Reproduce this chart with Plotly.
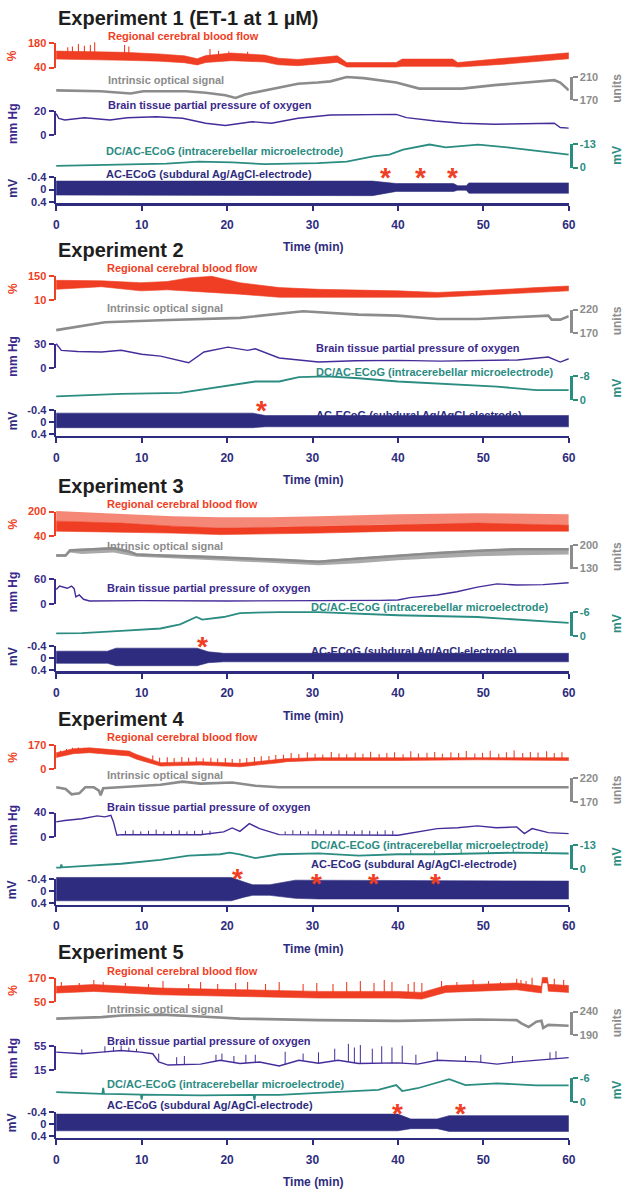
import plotly.graph_objects as go

W, H = 631, 1197
FONT = "Liberation Sans, Arial, Helvetica, sans-serif"

C_CBF = "#EF3E23"
C_IOS = "#8C8C8C"
C_PO2 = "#452C9A"
C_PO2_TXT = "#3B2A8C"
C_DC = "#2B8C82"
C_AC = "#2E2C7E"
C_TITLE = "#1E1E1E"

TITLES = ["Experiment 1 (ET-1 at 1 \u00b5M)", "Experiment 2", "Experiment 3", "Experiment 4", "Experiment 5"]
TIME_TICKS = [0, 10, 20, 30, 40, 50, 60]
LABELS = {"cbf": "Regional cerebral blood flow", "ios": "Intrinsic optical signal",
          "po2": "Brain tissue partial pressure of oxygen",
          "dc": "DC/AC-ECoG (intracerebellar microelectrode)",
          "ac": "AC-ECoG (subdural Ag/AgCl-electrode)"}
# scale-bar values (top, bottom) per experiment
CBF_BAR = [(180, 40), (150, 10), (200, 40), (170, 0), (170, 50)]
IOS_BAR = [(210, 170), (220, 170), (200, 130), (220, 170), (240, 190)]
PO2_BAR = [(20, 0), (30, 0), (60, 0), (40, 0), (55, 15)]
DC_BAR = [(-13, 0), (-8, 0), (-6, 0), (-13, 0), (-6, 0)]
AC_BAR = (-0.4, 0.4)

# ---------------- Experiment 1 ----------------
e1_cbf_t = [0, 2, 5, 8, 12, 15, 16.5, 17.5, 20.5, 24.4, 26, 28.3, 32.9, 34, 39.8, 40.5, 46.4, 47, 52, 56, 60]
e1_cbf_lo = [89, 88, 85, 82, 77, 68, 55, 69, 80, 72, 56, 51, 70, 43, 43, 47, 47, 43, 58, 75, 91]
e1_cbf_hi = [135, 134, 131, 128, 119, 108, 91, 109, 124, 112, 94, 87, 108, 69, 69, 89, 89, 69, 92, 109, 125]
e1_cbf_spk_t = [1.35, 1.9, 2.6, 3.3, 4.0, 4.5, 8.0, 8.5, 18.0, 19.0, 20.2, 22.4]
e1_cbf_spk_base = [111, 111, 110, 109, 109, 109, 105, 104, 85, 95, 101, 97]
e1_cbf_spk_top = [157, 162, 176, 166, 171, 186, 171, 162, 147, 137, 133, 132]
e1_ios_t = [0, 5.2, 8.7, 10.2, 15.2, 17.5, 19.8, 21, 22.1, 24.4, 28.3, 30.6, 32.1, 34, 36, 39.8, 42.5, 47.5, 51.3, 58.3, 59, 60]
e1_ios = [187, 185.5, 181.5, 185.5, 185.5, 183, 178.5, 174, 180, 187, 198.5, 200.5, 202.5, 210, 208, 200.5, 190, 190, 196, 204.5, 200.5, 187]
e1_po2_t = [0, 0.3, 1, 3.3, 6.3, 8.3, 11.7, 14.8, 17.5, 19.8, 22.9, 25.2, 28.3, 30.6, 32.1, 39.8, 41, 44.4, 47.5, 51.3, 58.3, 59, 60]
e1_po2 = [18, 14, 12.7, 14.6, 12.7, 14.6, 15.4, 14.1, 10, 8.1, 11.3, 10, 14.1, 15.4, 16.8, 17.3, 14.6, 11.9, 10, 9.2, 10, 6.5, 6]
e1_dc_t = [0, 5.2, 12.9, 16.7, 20.6, 24.4, 28.3, 30.6, 34, 37.1, 39, 40.6, 43.7, 45.6, 49.4, 53.3, 60]
e1_dc = [-0.95, -1.5, -2.2, -3.3, -2.8, -1.9, -2.4, -2.4, -3.3, -6.1, -7.1, -9.8, -12.6, -11.1, -12.6, -10.8, -7.1]
e1_ac_t = [0, 28, 37, 39.8, 46.5, 47, 48, 48.3, 60]
e1_ac_lo = [-0.28, -0.28, -0.28, -0.2, -0.2, -0.13, -0.13, -0.22, -0.22]
e1_ac_hi = [0.18, 0.2, 0.2, 0.06, 0.06, 0.02, 0.02, 0.12, 0.12]
e1_stars = [38.5, 42.6, 46.4]

# ---------------- Experiment 2 ----------------
e2_cbf_t = [0, 5.3, 9.9, 13, 15.5, 18.2, 21.5, 26.1, 30.7, 40, 44.6, 49.3, 56.2, 60]
e2_cbf_lo = [73, 88, 64, 70, 64, 55, 45, 27, 27, 27, 27, 36, 55, 64]
e2_cbf_hi = [125, 122, 111, 118, 139, 148, 111, 83, 73, 64, 55, 64, 83, 92]
e2_ios_t = [0, 3, 5.7, 12.2, 21.5, 28.9, 35.4, 40, 44.6, 49.3, 57.6, 58, 59, 60]
e2_ios = [176, 184.4, 193, 197.3, 202.2, 216.6, 209.3, 207.1, 200, 200, 207.1, 198.5, 198.5, 205.8]
e2_po2_t = [0, 0.3, 0.6, 2.5, 5.3, 7.6, 10, 12.2, 15.5, 17.3, 20.1, 22.4, 23.3, 26.1, 30.7, 35, 40, 45, 49.3, 54, 57.6, 59, 60]
e2_po2 = [30, 25.9, 21.9, 20.5, 19.8, 21.9, 17, 14.8, 6.5, 19.8, 25.9, 21.9, 23.8, 12.4, 7.4, 9, 9.5, 8.5, 9.5, 10, 13.6, 7.4, 11.5]
e2_dc_t = [0, 7.6, 14.5, 17.8, 21.5, 23.3, 26.1, 28.4, 31.7, 35.4, 40, 44.6, 51.6, 56.2, 60]
e2_dc = [-1.3, -2.1, -2.5, -4.0, -5.5, -6.3, -6.3, -7.8, -8, -7.4, -6.3, -5.7, -4.6, -3.4, -3.4]
e2_ac_t = [0, 23, 24.5, 60]
e2_ac_lo = [-0.3, -0.3, -0.22, -0.22]
e2_ac_hi = [0.18, 0.18, 0.15, 0.15]
e2_stars = [24.0]

# ---------------- Experiment 3 ----------------
e3_cbf_t = [0, 7.6, 13.6, 19.2, 25, 30.7, 40, 49.3, 60]
e3_cbf_lo = [71, 64, 58, 48, 51, 58, 71, 71, 71]
e3_cbf_hi = [137, 124, 104, 91, 97, 104, 117, 124, 110]
e3_cbf_peak = [203, 183, 170, 163, 163, 170, 183, 189, 183]
e3_ios_t = [0, 1.1, 1.6, 3, 6.7, 8.5, 9.4, 12.2, 16.9, 26.1, 30.7, 35.4, 40, 44.6, 49.3, 53.9, 60]
e3_ios = [169, 169, 184, 186, 191, 181, 172, 169, 165.6, 156, 150.4, 160, 169, 176.8, 183.2, 188, 188]
e3_ios_lo = [165, 165, 178, 174, 178, 170, 165, 162, 158, 146, 140, 146, 155, 161, 167, 170, 172]
e3_ios_hi = [173, 173, 189, 190, 195, 185, 176, 173, 169, 159, 154, 163, 172, 180, 186, 191, 192]
e3_po2_t = [0, 0.4, 1.3, 1.8, 2.1, 2.3, 2.7, 3.2, 3.9, 10, 20, 30, 38, 40, 41.4, 44.6, 46.9, 49.3, 51.6, 53.9, 57, 60]
e3_po2 = [35, 43.5, 38, 43.5, 37, 16.5, 21.4, 10.8, 6.6, 7.5, 6.6, 6.6, 8, 9, 14.8, 21.4, 29.5, 41, 49, 46, 47, 51.7]
e3_dc_t = [0, 3, 7.6, 12.2, 14.5, 16.4, 17.1, 19.6, 21.5, 26.1, 30.7, 40, 49.3, 60]
e3_dc = [-0.6, -0.7, -1.25, -1.85, -2.9, -4.75, -4.1, -4.75, -5.75, -6, -6, -5.2, -4.75, -3.25]
e3_ac_t = [0, 6, 7, 16.5, 17.8, 19.6, 60]
e3_ac_lo = [-0.22, -0.22, -0.32, -0.32, -0.2, -0.15, -0.15]
e3_ac_hi = [0.18, 0.18, 0.26, 0.26, 0.16, 0.13, 0.13]
e3_stars = [17.1]

# ---------------- Experiment 4 ----------------
e4_cbf_t = [0, 2, 3.9, 6.7, 8.5, 9.4, 11.3, 12.2, 16.9, 21.5, 26.1, 27, 30.7, 40, 49.3, 60]
e4_cbf_lo = [81, 108, 115, 99, 92, 69, 38, 21, 28, 16, 44, 52, 60, 60, 65, 60]
e4_cbf_hi = [115, 142, 149, 133, 126, 103, 66, 45, 52, 40, 68, 74, 80, 80, 85, 80]
e4_cbf_spk_t = [0.5, 1.2, 1.9, 2.6, 3.3, 5.9, 7.2, 8.6,
                11.3, 12.1, 13.0, 13.8, 14.7, 15.5, 16.4, 17.2, 18.1, 18.9, 19.8, 20.6, 21.5, 22.3, 23.2, 24.0, 24.9, 25.7,
                26.6, 27.5, 28.4, 29.4, 30.3, 31.2, 32.2, 33.1, 34.0, 35.0, 35.9, 36.8, 37.8, 38.7, 39.6, 40.6, 41.5, 42.4,
                43.4, 44.3, 45.2, 46.2, 47.1, 48.0, 49.0, 49.9, 50.8, 51.8, 52.7, 53.6, 54.6, 55.5, 56.4, 57.4, 58.3, 59.2]
e4_cbf_spk_base = [105, 118, 125, 130, 132, 118, 112, 105,
                   52, 36, 36, 37, 38, 39, 40, 38, 36, 34, 32, 30, 28, 34, 40, 46, 52, 56,
                   62, 64, 66, 68, 70, 70, 70, 70, 70, 70, 70, 70, 70, 70, 70, 70, 71, 72,
                   72, 73, 73, 74, 74, 74, 75, 75, 74, 73, 72, 72, 72, 71, 71, 70, 70, 70]
e4_cbf_spk_top = [128, 140, 150, 152, 150, 140, 132, 125,
                  95, 80, 82, 78, 84, 80, 82, 76, 80, 74, 78, 70, 72, 78, 84, 90, 92, 98,
                  100, 112, 105, 118, 108, 102, 120, 110, 104, 115, 108, 122, 106, 112, 118, 104, 125, 110,
                  115, 120, 108, 118, 112, 126, 110, 115, 128, 108, 118, 130, 112, 120, 116, 125, 112, 118]
e4_ios_t = [0, 1.1, 1.8, 2.7, 3.4, 4.4, 5, 5.2, 5.5, 7.6, 12.2, 14.8, 16.9, 20.6, 23.3, 26.1, 35.4, 44.6, 60]
e4_ios = [201, 197.4, 186, 188, 201, 201, 194, 184, 199, 201, 206.5, 213.3, 209, 211.2, 204.4, 201, 201, 202.3, 201]
e4_po2_t = [0, 1, 3, 4.8, 5.7, 6.4, 6.7, 7.1, 7.6, 16.9, 19.6, 20.6, 21.5, 22.6, 23.8, 26.1, 40, 42.8, 44.6, 47, 49.3, 51.5, 53.9, 54.8, 55.7, 57.6, 60]
e4_po2 = [24.7, 27, 30, 34.6, 33, 35.6, 24.7, 2.6, 3.8, 3.5, 8.2, 14.8, 9.2, 21.9, 13.7, 3.8, 2.6, 9.2, 13.7, 15, 18.1, 15, 16.5, 5.4, 13.7, 7.1, 5.4]
e4_po2_spk_t = [8.1, 9.0, 9.9, 10.8, 11.7, 12.6, 13.5, 14.4, 15.3, 16.2, 17.1, 18.0,
                26.8, 27.7, 28.6, 29.5, 30.4, 31.3, 32.2, 33.1, 34.0, 34.9, 35.8, 36.7, 37.6, 38.5, 39.4]
e4_po2_spk_base = [3.6, 3.6, 3.6, 3.6, 3.6, 3.6, 3.6, 3.6, 3.6, 3.6, 3.6, 3.6,
                   3.6, 3.6, 3.6, 3.6, 3.6, 3.6, 3.6, 3.6, 3.6, 3.6, 3.6, 3.6, 3.6, 3.6, 3.6]
e4_po2_spk_top = [10, 11, 9, 10, 12, 9, 10, 11, 9, 10, 11, 10,
                  9, 11, 10, 9, 12, 10, 9, 11, 10, 9, 11, 10, 9, 11, 10]
e4_dc_t = [0, 0.5, 0.6, 0.7, 3, 7.6, 12.2, 15.5, 19.2, 20.3, 21.5, 23.3, 26.1, 30.7, 35.4, 40, 44.6, 49.3, 53.9, 60]
e4_dc = [-0.8, -0.8, -2.5, -0.9, -1.6, -2.9, -5, -7.3, -8.1, -9, -8.1, -6, -8.1, -8.6, -7.3, -8.1, -8.1, -8.5, -9, -8.5]
e4_dc_spk_t = [41.5, 44.3, 47.4, 50.6, 53.5, 56.8]
e4_dc_spk_base = [-8.1, -8.1, -8.3, -8.5, -9, -8.7]
e4_dc_spk_top = [-10.5, -10, -11, -10.2, -11.2, -10.5]
e4_ac_t = [0, 20.5, 22, 23, 25, 28, 30.7, 60]
e4_ac_lo = [-0.45, -0.45, -0.3, -0.21, -0.21, -0.36, -0.35, -0.33]
e4_ac_hi = [0.32, 0.32, 0.2, 0.14, 0.14, 0.24, 0.26, 0.26]
e4_stars = [21.2, 30.5, 37.1, 44.4]

# ---------------- Experiment 5 ----------------
e5_cbf_t = [0, 4.4, 12.2, 21.5, 30.7, 40, 42.8, 45.6, 49.3, 53.9, 56.8, 56.9, 57.5, 57.6, 60]
e5_cbf_lo = [95, 103, 86, 78, 70, 70, 65, 98, 103, 111, 95, 145, 145, 104, 98]
e5_cbf_hi = [128, 137, 120, 112, 103, 103, 98, 132, 137, 145, 128, 172, 172, 138, 132]
e5_cbf_spk_t = [0.6, 2.7, 4.4, 5.5, 8.1, 10.8, 12.5, 15.5, 16.9, 18.9, 21.0, 22.4, 24.5, 26.1, 28.9, 30.5, 32.4, 34.0,
                35.6, 37.2, 38.4, 39.3, 41.2, 41.9, 42.8, 45.1, 46.9, 48.8, 50.6, 52.0, 53.9, 54.4, 55.0, 55.7, 58.3, 59.4]
e5_cbf_spk_base = [111, 115, 120, 118, 114, 108, 103, 100, 98, 96, 95, 94, 92, 90, 88, 87, 86, 86,
                   86, 86, 86, 86, 83, 82, 82, 105, 117, 120, 122, 125, 128, 128, 125, 120, 115, 115]
e5_cbf_spk_top = [150, 145, 160, 150, 145, 140, 155, 140, 150, 140, 145, 150, 140, 150, 140, 145, 140, 150,
                  155, 145, 160, 150, 140, 150, 145, 155, 150, 160, 155, 150, 165, 160, 155, 170, 165, 160]
e5_ios_t = [0, 5.3, 7.6, 12.2, 16.9, 21.5, 30.7, 40, 49.3, 53.9, 54.5, 55.3, 56.2, 56.8, 57, 57.6, 60]
e5_ios = [224.8, 228, 231.4, 233.4, 229.4, 224.8, 221.4, 220, 222.8, 221.4, 214, 206.8, 218, 220, 204.8, 211.4, 209.4]
e5_po2_t = [0, 3, 5.3, 7.6, 9.9, 11.3, 12, 13.1, 16.9, 19.2, 21.5, 23.8, 26.1, 28.4, 30.7, 33, 35.4, 40, 42.3, 44.6, 49.3, 51.6, 53.9, 58.5, 60]
e5_po2 = [44.3, 41.7, 44.3, 47, 44.3, 41.7, 28.3, 23, 24.5, 31, 25.7, 28, 21.4, 31, 26, 31, 25.7, 26.7, 24.6, 31, 28.3, 24.6, 28.3, 33.7, 35.3]
e5_po2_spk_t = [3.0, 5.7, 6.7, 7.6, 8.5, 9.4, 12.0, 14.1, 15.0, 18.7, 19.4, 20.8, 22.2, 23.3, 26.8, 28.9,
                30.7, 32.6, 34.2, 34.9, 35.6, 37.0, 38.1, 39.3, 40.5, 42.1, 44.6, 47.9, 49.7, 53.4, 57.8, 58.5]
e5_po2_spk_base = [42, 44, 46, 47, 46, 45, 30, 24, 24, 29, 30, 27, 26, 27, 24, 30,
                   26, 30, 28, 26, 26, 26, 26, 26, 26, 25, 31, 29, 27, 28, 33, 34]
e5_po2_spk_top = [49, 54, 53, 55, 52, 50, 42, 36, 38, 40, 42, 38, 40, 40, 45, 42,
                  44, 50, 58, 52, 56, 50, 54, 52, 55, 40, 45, 38, 40, 38, 44, 46]
e5_dc_t = [0, 5.4, 5.5, 5.6, 7.6, 9.9, 10, 10.1, 16.9, 23.1, 23.2, 23.3, 26.1, 33, 37.7, 39.8, 40.5, 42.3, 46, 47.9, 51.6, 56.2, 60]
e5_dc = [-2.5, -2.1, -3.6, -2.1, -2, -1.9, -0.6, -1.9, -1.7, -1.8, -0.5, -1.8, -1.8, -2.5, -3.1, -4.3, -2.8, -3.5, -5.8, -4.3, -4.75, -4.2, -4.2]
e5_ac_t = [0, 40, 41.5, 44.6, 46, 60]
e5_ac_lo = [-0.33, -0.33, -0.17, -0.17, -0.28, -0.28]
e5_ac_hi = [0.22, 0.22, 0.15, 0.15, 0.24, 0.24]
e5_stars = [39.9, 47.3]

# ---------------- assemble ----------------
EXPS = [
    dict(cbf_band=(e1_cbf_t, e1_cbf_lo, e1_cbf_hi), cbf_spk=(e1_cbf_spk_t, e1_cbf_spk_base, e1_cbf_spk_top),
         ios=(e1_ios_t, e1_ios), po2=(e1_po2_t, e1_po2), dc=(e1_dc_t, e1_dc),
         ac=(e1_ac_t, e1_ac_lo, e1_ac_hi), stars=e1_stars),
    dict(cbf_band=(e2_cbf_t, e2_cbf_lo, e2_cbf_hi),
         ios=(e2_ios_t, e2_ios), po2=(e2_po2_t, e2_po2), dc=(e2_dc_t, e2_dc),
         ac=(e2_ac_t, e2_ac_lo, e2_ac_hi), stars=e2_stars),
    dict(cbf_band=(e3_cbf_t, e3_cbf_lo, e3_cbf_hi), cbf_fringe=(e3_cbf_t, e3_cbf_hi, e3_cbf_peak),
         ios_band=(e3_ios_t, e3_ios_lo, e3_ios_hi),
         ios=(e3_ios_t, e3_ios), po2=(e3_po2_t, e3_po2), dc=(e3_dc_t, e3_dc),
         ac=(e3_ac_t, e3_ac_lo, e3_ac_hi), stars=e3_stars),
    dict(cbf_band=(e4_cbf_t, e4_cbf_lo, e4_cbf_hi), cbf_spk=(e4_cbf_spk_t, e4_cbf_spk_base, e4_cbf_spk_top),
         ios=(e4_ios_t, e4_ios), po2=(e4_po2_t, e4_po2), po2_spk=(e4_po2_spk_t, e4_po2_spk_base, e4_po2_spk_top),
         dc=(e4_dc_t, e4_dc), dc_spk=(e4_dc_spk_t, e4_dc_spk_base, e4_dc_spk_top),
         ac=(e4_ac_t, e4_ac_lo, e4_ac_hi), stars=e4_stars),
    dict(cbf_band=(e5_cbf_t, e5_cbf_lo, e5_cbf_hi), cbf_spk=(e5_cbf_spk_t, e5_cbf_spk_base, e5_cbf_spk_top),
         ios=(e5_ios_t, e5_ios), po2=(e5_po2_t, e5_po2), po2_spk=(e5_po2_spk_t, e5_po2_spk_base, e5_po2_spk_top),
         dc=(e5_dc_t, e5_dc), ac=(e5_ac_t, e5_ac_lo, e5_ac_hi), stars=e5_stars),
]

# ---------------- layout geometry (pixels) ----------------
BLOCK_TOP = [37.7, 272.7, 510.7, 746.3, 981.7]
OFF = {"cbf": (0, 24.5), "ios": (34, 57.5), "po2": (68.5, 93), "dc": (101.5, 125.5), "ac": (135.5, 160)}
AXIS_OFF = 162.5
TITLE_OFF = -26
TIMELBL_OFF = 206
X_LINE0, X_T0, X_T60 = 53.3, 55.0, 575.0
PX_PER_MIN = (X_T60 - X_T0) / 60.0
X_RBR = 577.5
PAD = 18
LABEL_POS = [
    {"cbf": (105, -7.7), "ios": (105, 37.3), "po2": (105, 62.3), "dc": (103, 109), "ac": (103, 131.6)},
    {"cbf": (104, -7.7), "ios": (104, 32.3), "po2": (317, 72.3), "dc": (317, 97.3), "ac": (317, 140)},
    {"cbf": (104, -8), "ios": (104, 34.3), "po2": (104, 77.6), "dc": (311, 96), "ac": (311, 141)},
    {"cbf": (104, -8), "ios": (104, 30.4), "po2": (104, 63), "dc": (311, 101), "ac": (311, 120.4)},
    {"cbf": (104, -7.4), "ios": (104, 31.6), "po2": (104, 63.3), "dc": (104, 107.3), "ac": (104, 128.3)},
]
STAR_OFF = [[130.6] * 3, [130.6], [131], [130.4, 134.7, 134.7, 134.7], [131.6, 131.6]]
CH_COLOR = {"cbf": C_CBF, "ios": C_IOS, "po2": C_PO2_TXT, "dc": C_DC, "ac": C_AC}
CH_SIDE = {"cbf": "left", "ios": "right", "po2": "left", "dc": "right", "ac": "left"}
CH_UNIT = {"cbf": "%", "ios": "units", "po2": "mm Hg", "dc": "mV", "ac": "mV"}


def yp(py):
    return 1 - py / H


def xp(px):
    return px / W


fig = go.Figure()
layout = {}
annotations = []
counter = [0]


def new_y():
    counter[0] += 1
    n = counter[0]
    return ("y" if n == 1 else f"y{n}"), ("yaxis" if n == 1 else f"yaxis{n}")


def band(t, lo, hi, color, xa, ya, opacity=1.0, lw=0.6):
    fig.add_trace(go.Scatter(x=list(t) + list(t)[::-1], y=list(hi) + list(lo)[::-1], mode="lines",
                             fill="toself", fillcolor=color, opacity=opacity,
                             line=dict(color=color, width=lw), xaxis=xa, yaxis=ya, hoverinfo="skip"))


def line(t, v, color, width, xa, ya):
    fig.add_trace(go.Scatter(x=t, y=v, mode="lines", line=dict(color=color, width=width),
                             xaxis=xa, yaxis=ya, hoverinfo="skip"))


def spikes(t, base, top, color, width, xa, ya):
    xs, ys = [], []
    for a, b, c in zip(t, base, top):
        xs += [a, a, None]
        ys += [b, c, None]
    fig.add_trace(go.Scatter(x=xs, y=ys, mode="lines", line=dict(color=color, width=width),
                             xaxis=xa, yaxis=ya, hoverinfo="skip"))


def txt(x, y, s, size, color, xanchor="left", angle=0, xref="paper"):
    annotations.append(dict(x=x, y=y, xref=xref, yref="paper", text=s, showarrow=False,
                            xanchor=xanchor, yanchor="middle", textangle=angle,
                            font=dict(family=FONT, size=size, color=color, weight="bold")))


bars = {"cbf": CBF_BAR, "ios": IOS_BAR, "po2": PO2_BAR, "dc": DC_BAR}

for k, ex in enumerate(EXPS):
    T = BLOCK_TOP[k]
    xname = "x" if k == 0 else f"x{k + 1}"
    xlay = "xaxis" if k == 0 else f"xaxis{k + 1}"
    axis_py = T + AXIS_OFF
    layout[xlay] = dict(domain=[xp(X_LINE0), xp(X_T60)], range=[-(X_T0 - X_LINE0) / PX_PER_MIN, 60],
                        anchor="free", position=yp(axis_py), showline=True, linecolor=C_AC, linewidth=2.4,
                        ticks="outside", ticklen=5, tickwidth=2, tickcolor=C_AC, tickvals=TIME_TICKS,
                        ticklabelstandoff=4,
                        tickfont=dict(family=FONT, size=12, color=C_AC, weight="bold"),
                        showgrid=False, zeroline=False, fixedrange=True)
    txt(xp((X_T0 + X_T60) / 2), yp(T + TIMELBL_OFF), "Time (min)", 12, C_AC, xanchor="center")
    txt(xp(X_T0), yp(T + TITLE_OFF), TITLES[k], 20, C_TITLE)

    for ch in ["cbf", "ios", "po2", "dc", "ac"]:
        top_px, bot_px = T + OFF[ch][0], T + OFF[ch][1]
        top_val, bot_val = (AC_BAR if ch == "ac" else bars[ch][k])
        scale = (top_val - bot_val) / (bot_px - top_px)

        def val(py, bot_val=bot_val, bot_px=bot_px, scale=scale):
            return bot_val + (bot_px - py) * scale

        # data axis (invisible)
        yname, ylay = new_y()
        layout[ylay] = dict(domain=[yp(bot_px + PAD), yp(top_px - PAD)],
                            range=[val(bot_px + PAD), val(top_px - PAD)],
                            anchor=xname, visible=False, fixedrange=True)
        if ch == "cbf":
            band(*ex["cbf_band"], C_CBF, xname, yname)
            if "cbf_fringe" in ex:
                band(*ex["cbf_fringe"], C_CBF, xname, yname, opacity=0.62, lw=0)
            if "cbf_spk" in ex:
                spikes(*ex["cbf_spk"], C_CBF, 1.1, xname, yname)
        elif ch == "ios":
            if "ios_band" in ex:
                band(*ex["ios_band"], C_IOS, xname, yname, opacity=0.75, lw=0)
            line(*ex["ios"], C_IOS, 2.6, xname, yname)
        elif ch == "po2":
            line(*ex["po2"], C_PO2, 1.4, xname, yname)
            if "po2_spk" in ex:
                spikes(*ex["po2_spk"], C_PO2, 1.0, xname, yname)
        elif ch == "dc":
            line(*ex["dc"], C_DC, 1.8, xname, yname)
            if "dc_spk" in ex:
                spikes(*ex["dc_spk"], C_DC, 1.0, xname, yname)
        else:
            band(*ex["ac"], C_AC, xname, yname)

        # scale bar axis
        bname, blay = new_y()
        color = CH_COLOR[ch]
        br_bot = axis_py if ch == "ac" else bot_px
        if ch == "ac":
            tv = [-0.4, 0, 0.4]
            tt = ["-0.4", "0", "0.4"]
        else:
            tv = [top_val, bot_val]
            tt = [str(top_val), str(bot_val)]
        side = CH_SIDE[ch]
        layout[blay] = dict(domain=[yp(br_bot), yp(top_px)], range=[val(br_bot), top_val],
                            anchor="free", position=xp(X_LINE0 if side == "left" else X_RBR), side=side,
                            showline=True, linecolor=color, linewidth=2.4, ticks="outside", ticklen=5,
                            tickwidth=2, tickcolor=color, tickvals=tv, ticktext=tt,
                            tickfont=dict(family=FONT, size=11, color=color, weight="bold"),
                            showgrid=False, zeroline=False, fixedrange=True)
        fig.add_trace(go.Scatter(x=[None], y=[None], xaxis=xname, yaxis=bname, hoverinfo="skip"))

        # unit label
        cy = (top_px + bot_px) / 2 if ch != "ac" else T + 146
        ux = 11 if side == "left" else 624
        txt(xp(ux), yp(cy), CH_UNIT[ch], 12, color, xanchor="center", angle=-90)

        # trace label
        lx, ly = LABEL_POS[k][ch]
        lcol = C_PO2_TXT if ch == "po2" else color
        txt(xp(lx), yp(T + ly), LABELS[ch], 11, lcol)

    for s, off in zip(ex["stars"], STAR_OFF[k]):
        annotations.append(dict(x=s, y=yp(T + off + 5), xref=xname, yref="paper", text="*", showarrow=False,
                                xanchor="center", yanchor="middle",
                                font=dict(family=FONT, size=28, color=C_CBF, weight="bold")))

fig.update_layout(width=W, height=H, margin=dict(l=0, r=0, t=0, b=0), paper_bgcolor="white",
                  plot_bgcolor="rgba(0,0,0,0)", showlegend=False, annotations=annotations, **layout)
fig.write_html("out.html", config={"displayModeBar": False, "staticPlot": True},
               post_script="document.body.style.margin='0';document.body.style.overflow='hidden';")
